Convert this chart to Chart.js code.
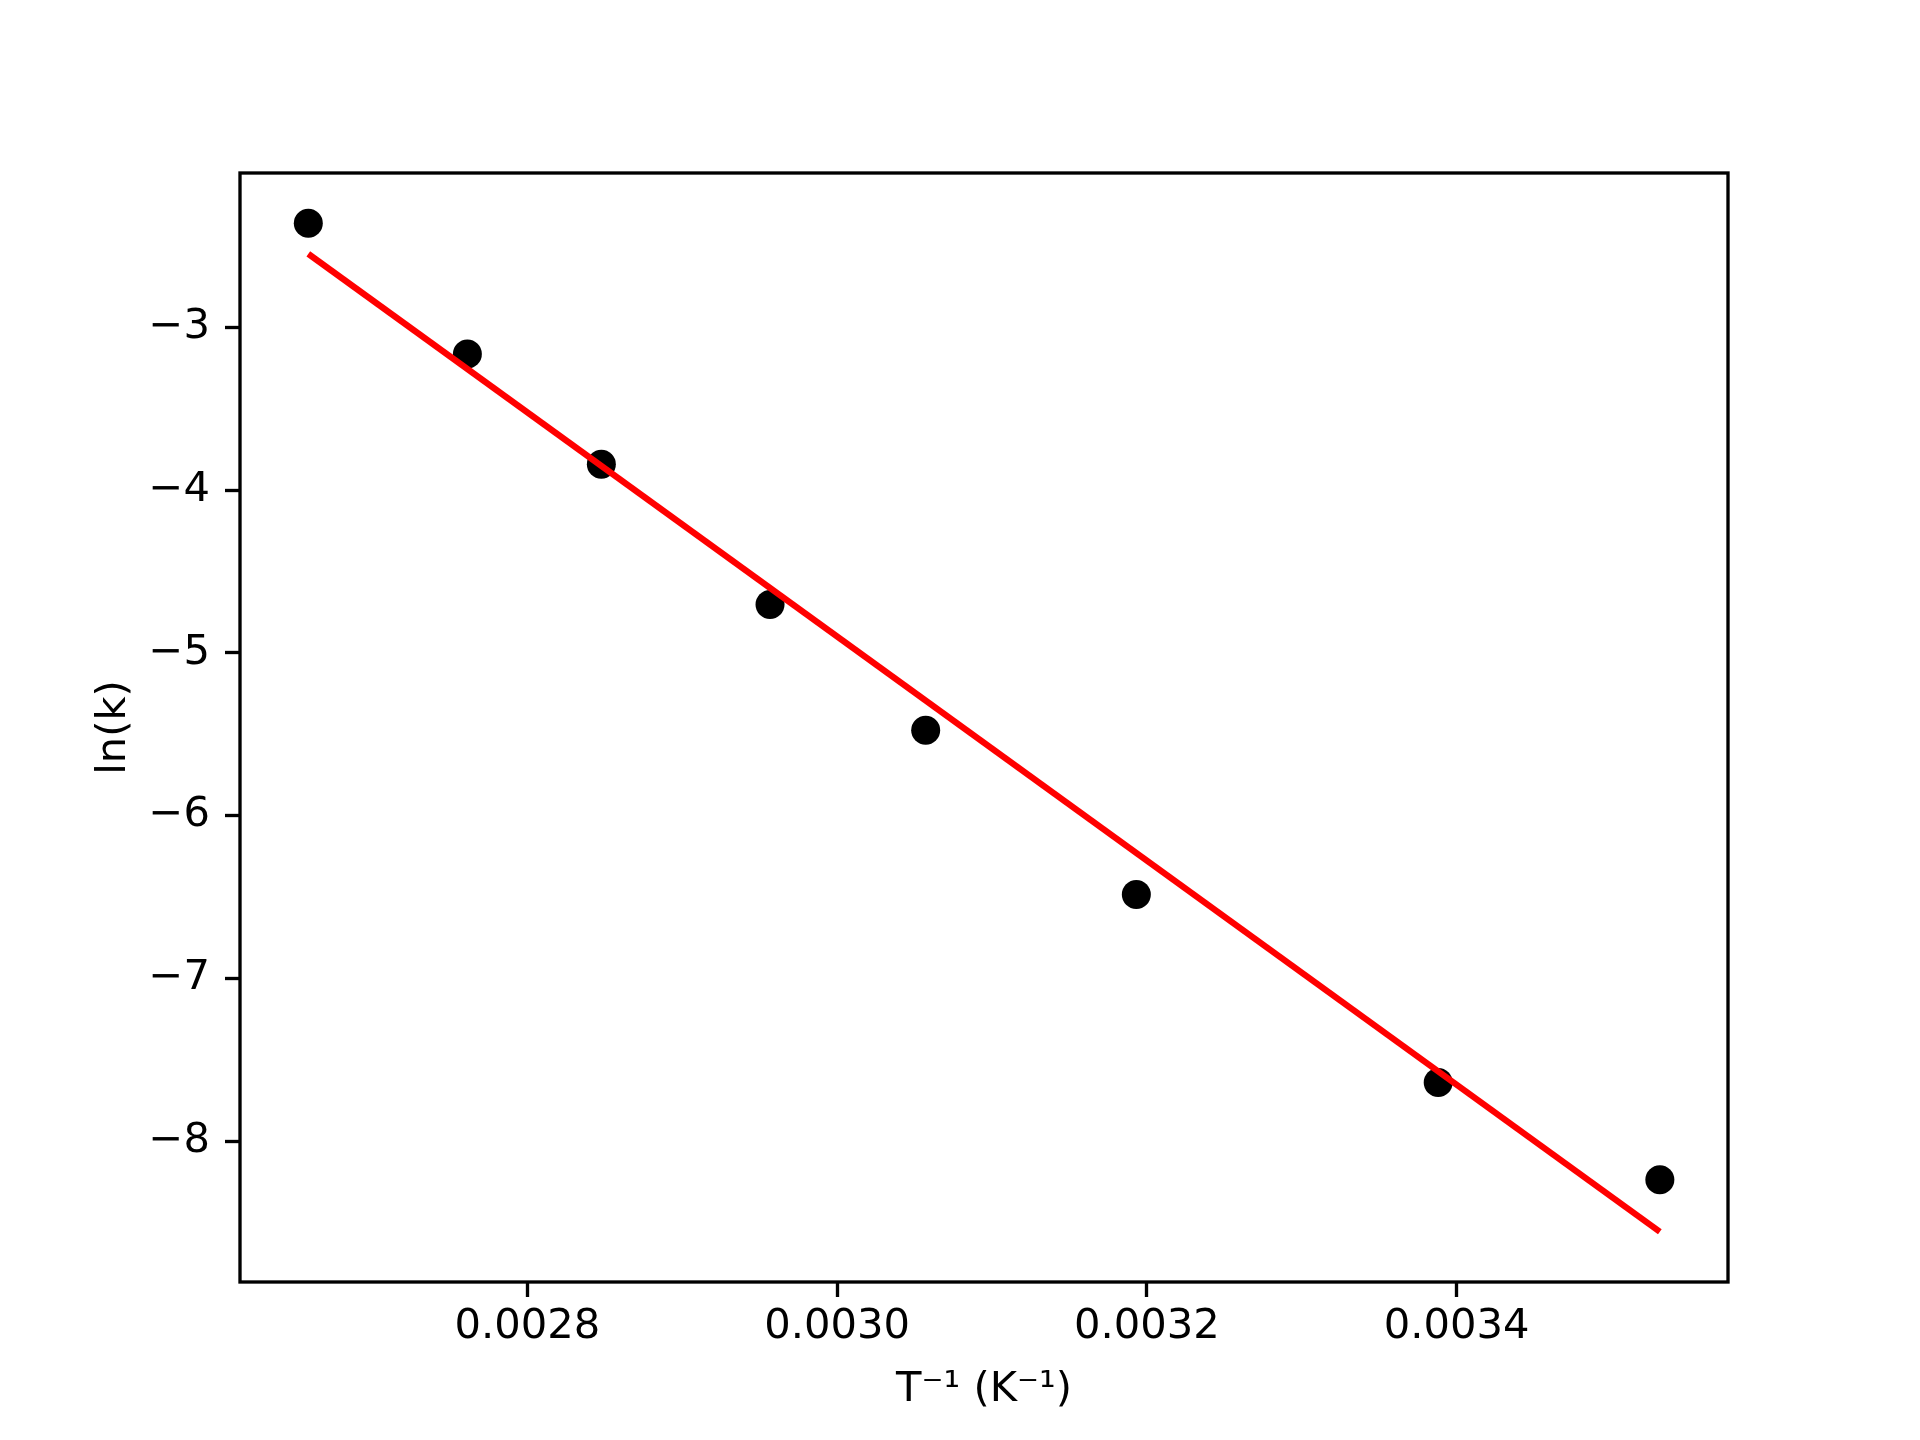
<!DOCTYPE html>
<html>
<head>
<meta charset="utf-8">
<script src="https://cdn.jsdelivr.net/npm/chart.js@4.4.1/dist/chart.umd.min.js"></script>
<style>
  html, body { margin: 0; padding: 0; background: #ffffff; }
  #wrap { width: 1920px; height: 1440px; }
</style>
</head>
<body>
<div id="wrap"><canvas id="arrhenius" width="1920" height="1440"></canvas></div>
<script>
// Arrhenius plot data
const invT = [0.0026586, 0.0027613, 0.0028478, 0.0029567, 0.0030572, 0.0031932, 0.0033881, 0.0035312];
const lnK = [-2.361, -3.164, -3.842, -4.703, -5.475, -6.485, -7.640, -8.237];

// fitted line, end points
const fitInvT = [0.0026586, 0.0035312];
const fitLnK = [-2.549, -8.556];

const xTicks = [0.0028, 0.0030, 0.0032, 0.0034];
const yTicks = [-8, -7, -6, -5, -4, -3];

const xRange = [0.0026145, 0.0035752];
const yRange = [-8.865, -2.052];

const PT = 300 / 72; // matplotlib points -> px at 300 dpi
const fontFamily = '"DejaVu Sans", "Liberation Sans", sans-serif';
const fontSize = 10 * PT;

// full box around the plot area, like matplotlib spines
const frameBox = {
    id: 'frameBox',
    afterDraw(chart) {
        const { ctx, chartArea: a } = chart;
        ctx.save();
        ctx.strokeStyle = '#000000';
        ctx.lineWidth = 0.8 * PT;
        ctx.strokeRect(a.left, a.top, a.right - a.left, a.bottom - a.top);
        ctx.restore();
    }
};

const points = invT.map((x, i) => ({ x: x, y: lnK[i] }));
const fit = fitInvT.map((x, i) => ({ x: x, y: fitLnK[i] }));

new Chart(document.getElementById('arrhenius'), {
    type: 'scatter',
    data: {
        datasets: [
            {
                type: 'line',
                data: fit,
                borderColor: '#ff0000',
                borderWidth: 1.5 * PT,
                pointRadius: 0,
                fill: false,
                order: 0
            },
            {
                data: points,
                backgroundColor: '#000000',
                borderColor: '#000000',
                borderWidth: 0,
                pointRadius: 14.5,
                order: 1
            }
        ]
    },
    options: {
        responsive: false,
        devicePixelRatio: 1,
        animation: false,
        events: [],
        layout: { padding: { top: 173, right: 192, bottom: 0, left: 0 } },
        plugins: {
            legend: { display: false },
            tooltip: { enabled: false }
        },
        scales: {
            x: {
                type: 'linear',
                min: xRange[0],
                max: xRange[1],
                afterBuildTicks: s => { s.ticks = xTicks.map(v => ({ value: v })); },
                afterFit: s => { s.height = 158; },
                border: { display: false },
                grid: {
                    drawOnChartArea: false,
                    drawTicks: true,
                    tickLength: 15,
                    tickWidth: 0.8 * PT,
                    tickColor: '#000000'
                },
                ticks: {
                    color: '#000000',
                    padding: 5,
                    maxRotation: 0,
                    font: { family: fontFamily, size: fontSize },
                    callback: v => v.toFixed(4)
                },
                title: {
                    display: true,
                    text: 'T\u207B\u00B9 (K\u207B\u00B9)',
                    color: '#000000',
                    padding: { top: 0, bottom: 25 },
                    font: { family: fontFamily, size: fontSize }
                }
            },
            y: {
                type: 'linear',
                min: yRange[0],
                max: yRange[1],
                afterBuildTicks: s => { s.ticks = yTicks.map(v => ({ value: v })); },
                afterFit: s => { s.width = 240; },
                border: { display: false },
                grid: {
                    drawOnChartArea: false,
                    drawTicks: true,
                    tickLength: 15,
                    tickWidth: 0.8 * PT,
                    tickColor: '#000000'
                },
                ticks: {
                    color: '#000000',
                    padding: 15,
                    font: { family: fontFamily, size: fontSize },
                    callback: v => (v < 0 ? '\u2212' : '') + Math.abs(v)
                },
                title: {
                    display: true,
                    text: 'ln(k)',
                    color: '#000000',
                    padding: { top: 89, bottom: 0 },
                    font: { family: fontFamily, size: fontSize }
                }
            }
        }
    },
    plugins: [frameBox]
});
</script>
</body>
</html>
